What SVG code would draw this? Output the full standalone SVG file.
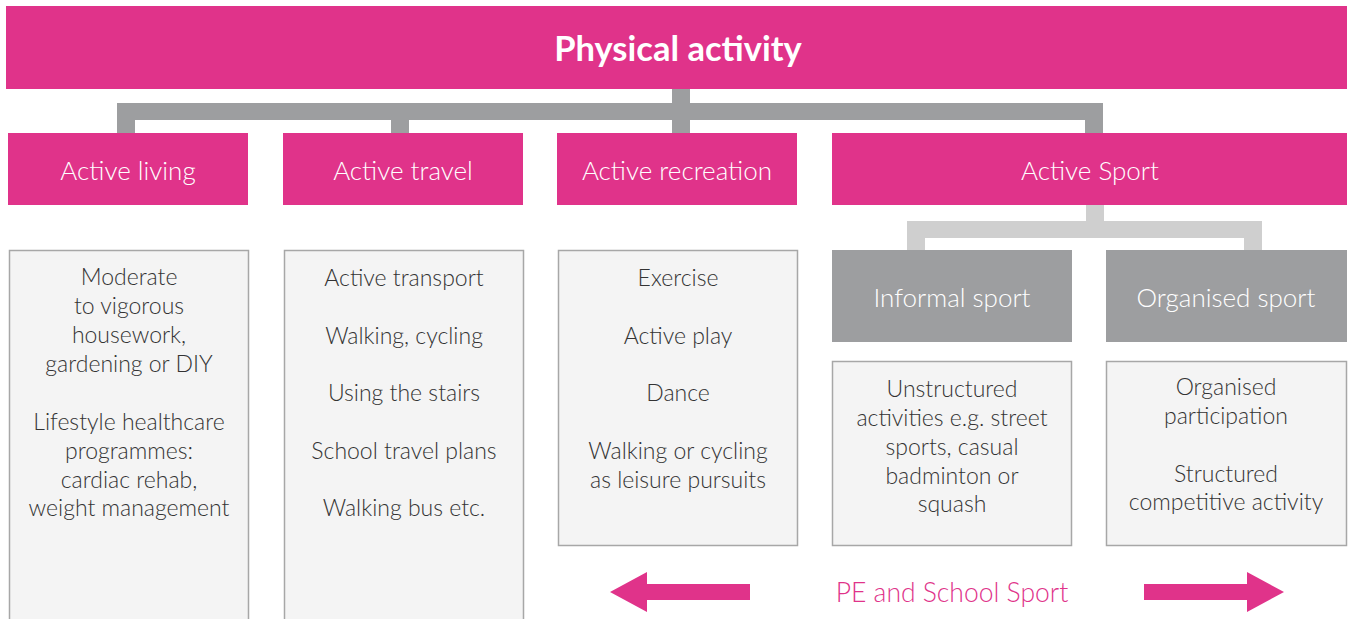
<svg xmlns="http://www.w3.org/2000/svg" width="1353" height="619" viewBox="0 0 1353 619">
<style>
.pink{fill:#E0338A}
.grey{fill:#9D9EA0}
.lgrey{fill:#CFCFCF}
.content{fill:#F4F4F4;stroke:#A7A7A7;stroke-width:1.5}
.title{font-family:Lato,"Open Sans",sans-serif;font-weight:700;font-size:34.5px;fill:#fff;text-anchor:middle}
.head{font-family:Lato,"Open Sans",sans-serif;font-weight:300;font-size:26px;fill:#fff;text-anchor:middle}
.body{font-family:Lato,"Open Sans",sans-serif;font-weight:300;font-size:23px;fill:#333;text-anchor:middle}
.pe{font-family:Lato,"Open Sans",sans-serif;font-weight:300;font-size:26.5px;fill:#E0338A;text-anchor:middle}
</style>
<rect width="1353" height="619" fill="#fff"/>
<g id="connectors">
<rect class="grey" x="672" y="88" width="18" height="46"/>
<rect class="grey" x="117" y="103" width="986" height="17"/>
<rect class="grey" x="117" y="103" width="18" height="31"/>
<rect class="grey" x="391" y="103" width="18" height="31"/>
<rect class="grey" x="1085" y="103" width="18" height="31"/>
<rect class="lgrey" x="1086" y="204" width="18" height="34"/>
<rect class="lgrey" x="907" y="221" width="355" height="17"/>
<rect class="lgrey" x="907" y="221" width="18" height="30"/>
<rect class="lgrey" x="1244" y="221" width="18" height="30"/>
</g>
<g id="physical-activity">
<rect class="pink" x="6" y="6" width="1341" height="83"/>
<text class="title" x="678" y="61">Physical activity</text>
</g>
<g id="active-living">
<rect class="pink" x="8" y="133" width="240" height="72"/>
<text class="head" x="128" y="180">Active living</text>
</g>
<g id="active-travel">
<rect class="pink" x="283" y="133" width="240" height="72"/>
<text class="head" x="403" y="180">Active travel</text>
</g>
<g id="active-recreation">
<rect class="pink" x="557" y="133" width="240" height="72"/>
<text class="head" x="677" y="180">Active recreation</text>
</g>
<g id="active-sport">
<rect class="pink" x="832" y="133" width="515" height="72"/>
<text class="head" x="1090" y="180">Active Sport</text>
</g>
<g id="informal-sport">
<rect class="grey" x="832" y="250" width="240" height="92"/>
<text class="head" x="952" y="307">Informal sport</text>
</g>
<g id="organised-sport">
<rect class="grey" x="1106" y="250" width="241" height="92"/>
<text class="head" x="1226" y="307">Organised sport</text>
</g>
<g id="living-content">
<rect class="content" x="9.5" y="250.5" width="239" height="380"/>
<text class="body" x="129" y="285">Moderate</text>
<text class="body" x="129" y="314">to vigorous</text>
<text class="body" x="129" y="343">housework,</text>
<text class="body" x="129" y="372">gardening or DIY</text>
<text class="body" x="129" y="430">Lifestyle healthcare</text>
<text class="body" x="129" y="459">programmes:</text>
<text class="body" x="129" y="488">cardiac rehab,</text>
<text class="body" x="129" y="516">weight management</text>
</g>
<g id="travel-content">
<rect class="content" x="284.5" y="250.5" width="239" height="380"/>
<text class="body" x="404" y="286">Active transport</text>
<text class="body" x="404" y="344">Walking, cycling</text>
<text class="body" x="404" y="401">Using the stairs</text>
<text class="body" x="404" y="459">School travel plans</text>
<text class="body" x="404" y="516">Walking bus etc.</text>
</g>
<g id="recreation-content">
<rect class="content" x="558.5" y="250.5" width="239" height="295"/>
<text class="body" x="678" y="286">Exercise</text>
<text class="body" x="678" y="344">Active play</text>
<text class="body" x="678" y="401">Dance</text>
<text class="body" x="678" y="459">Walking or cycling</text>
<text class="body" x="678" y="488">as leisure pursuits</text>
</g>
<g id="informal-content">
<rect class="content" x="832.5" y="361.5" width="239" height="184"/>
<text class="body" x="952" y="397">Unstructured</text>
<text class="body" x="952" y="426">activities e.g. street</text>
<text class="body" x="952" y="455">sports, casual</text>
<text class="body" x="952" y="484">badminton or</text>
<text class="body" x="952" y="512">squash</text>
</g>
<g id="organised-content">
<rect class="content" x="1106.5" y="361.5" width="240" height="184"/>
<text class="body" x="1226" y="395">Organised</text>
<text class="body" x="1226" y="424">participation</text>
<text class="body" x="1226" y="482">Structured</text>
<text class="body" x="1226" y="510">competitive activity</text>
</g>
<g id="pe-school-sport">
<polygon class="pink" points="610,592 647,572 647,584 750,584 750,600 647,600 647,612"/>
<polygon class="pink" points="1284,592 1247,572 1247,584 1144,584 1144,600 1247,600 1247,612"/>
<text class="pe" x="952" y="602">PE and School Sport</text>
</g>
</svg>
